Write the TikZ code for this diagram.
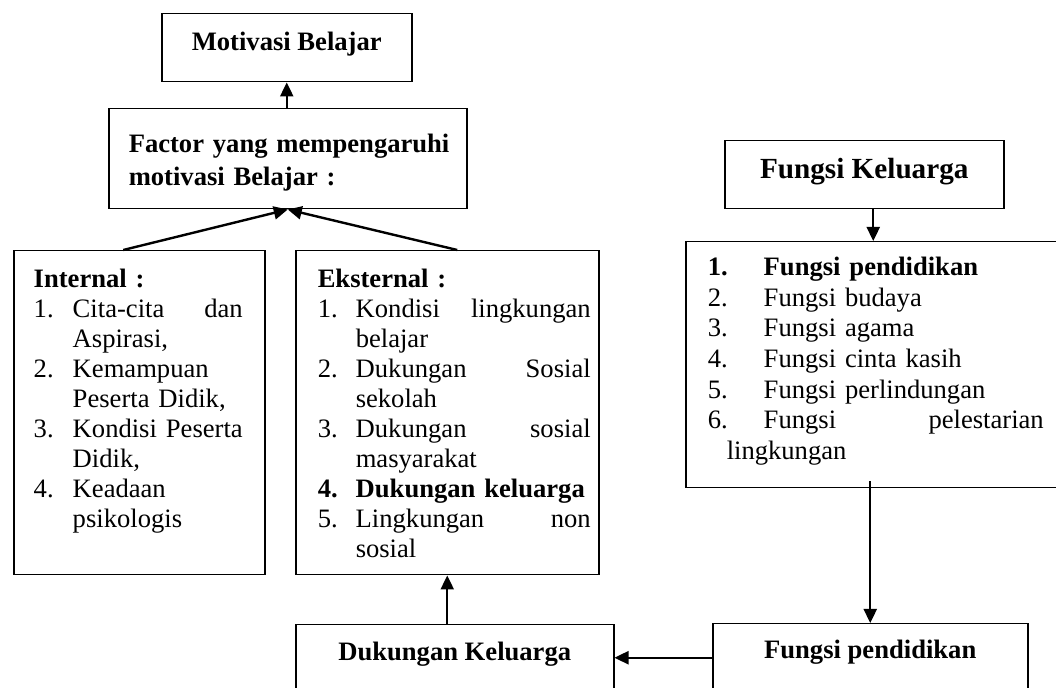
\documentclass[tikz,border=0pt]{standalone}
\usepackage{fontspec}
\setmainfont{Liberation Serif}
\usetikzlibrary{arrows.meta}
\tikzset{
  plainBox/.style={draw, line width=0.75pt, inner sep=0pt, anchor=north west, font=\fontsize{13.3}{15.3}\selectfont\bfseries},
  listBox/.style={plainBox, align=left, font=\fontsize{13.3}{15}\selectfont},
  flowArrow/.style={-{Triangle[length=7pt,width=6.5pt]}, line width=1.2pt}
}
\begin{document}
\begin{tikzpicture}[x=0.5pt,y=-0.5pt]
  \useasboundingbox (0,0) rectangle (1056,688);
  \clip (0,0) rectangle (1056,688);
  % motivasi side
  \node[plainBox, minimum width=125pt, text height=18.5pt, text depth=15.5pt] (mot) at (161,13) {Motivasi Belajar};
  \node[plainBox, align=left, text width=179pt, text height=22pt, text depth=28pt,
        font=\fontsize{13.3}{16.5}\selectfont\bfseries] (fac) at (108,108)
    {\hspace*{10pt}\begin{tabular}[t]{@{}l@{}}Factor yang mempengaruhi\\ motivasi Belajar :\end{tabular}};
  \node[listBox, text width=125.5pt, text height=18.5pt, text depth=143.5pt] (int) at (13,250)
    {\hspace*{10pt}\begin{tabular}[t]{@{}p{19.5pt}@{}p{85pt}@{}}
      \multicolumn{2}{@{}l@{}}{\textbf{Internal :}}\\
      1. & Cita-cita \hfill dan\\
         & Aspirasi,\\
      2. & Kemampuan\\
         & Peserta Didik,\\
      3. & Kondisi \hfill Peserta\\
         & Didik,\\
      4. & Keadaan\\
         & psikologis
    \end{tabular}};
  \node[listBox, text width=151.5pt, text height=18.5pt, text depth=143.5pt] (eks) at (295,250)
    {\hspace*{11pt}\begin{tabular}[t]{@{}p{19pt}@{}p{117.5pt}@{}}
      \multicolumn{2}{@{}l@{}}{\textbf{Eksternal :}}\\
      1. & Kondisi \hfill lingkungan\\
         & belajar\\
      2. & Dukungan \hfill Sosial\\
         & sekolah\\
      3. & Dukungan \hfill sosial\\
         & masyarakat\\
      \textbf{4.} & \textbf{Dukungan keluarga}\\
      5. & Lingkungan \hfill non\\
         & sosial
    \end{tabular}};
  % keluarga side
  \node[plainBox, minimum width=139.5pt, text height=19pt, text depth=15pt,
        font=\fontsize{14.6}{16}\selectfont\bfseries] (fk) at (724,140) {Fungsi Keluarga};
  \node[listBox, text width=191.5pt, text height=17pt, text depth=106pt,
        font=\fontsize{13.3}{15.3}\selectfont] (lst) at (685,241)
    {\hspace*{11pt}\begin{tabular}[t]{@{}p{28pt}@{}p{140pt}@{}}
      \textbf{1.} & \textbf{Fungsi pendidikan}\\
      2. & Fungsi budaya\\
      3. & Fungsi agama\\
      4. & Fungsi cinta kasih\\
      5. & Fungsi perlindungan\\
      6. & Fungsi \hfill pelestarian\\
      \multicolumn{2}{@{\hspace{9.5pt}}l@{}}{lingkungan}
    \end{tabular}};
  \node[plainBox, minimum width=159pt, text height=18pt, text depth=15.5pt] (dk) at (295,624) {Dukungan Keluarga};
  \node[plainBox, minimum width=157.5pt, text height=17.5pt, text depth=16.5pt] (fpd) at (712,623) {Fungsi pendidikan};
  % arrows
  \draw[flowArrow] (fac.north -| mot.south) -- (mot.south);
  \draw[flowArrow] ([xshift=-8pt]int.north) -- (fac.south);
  \draw[flowArrow] ([xshift=5pt]eks.north) -- (fac.south);
  \draw[flowArrow] ([xshift=4.5pt]fk.south) -- ([xshift=4.5pt]fk.south |- lst.north);
  \draw[flowArrow] ([yshift=3.5pt]lst.south -| fpd.north) -- (fpd.north);
  \draw[flowArrow] (fpd.west) -- (fpd.west -| dk.east);
  \draw[flowArrow] (dk.north -| eks.south) -- (eks.south);
\end{tikzpicture}
\end{document}
